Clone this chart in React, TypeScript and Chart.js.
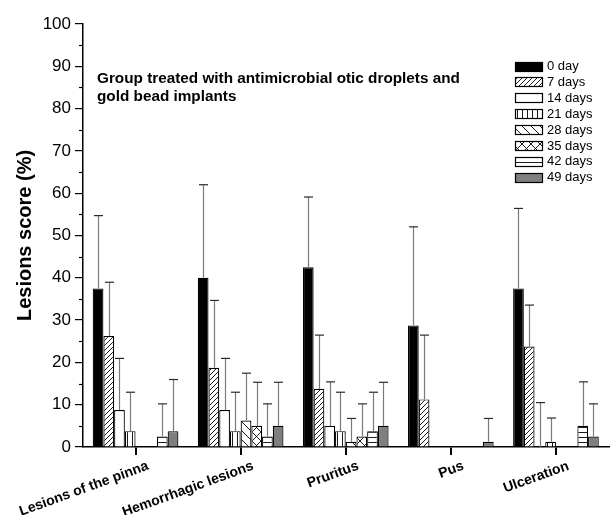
import React, { useEffect, useRef } from 'react';
import { Chart, registerables } from 'chart.js';

Chart.register(...registerables);

const FONT = '"Liberation Sans", Arial, Helvetica, sans-serif';

const categories = ['Lesions of the pinna', 'Hemorrhagic lesions', 'Pruritus', 'Pus', 'Ulceration'];
const seriesLabels = ['0 day', '7 days', '14 days', '21 days', '28 days', '35 days', '42 days', '49 days'];

const day0 = [37.5, 40, 42.5, 28.75, 37.5];
const day7 = [26.25, 18.75, 13.75, 11.25, 23.75];
const day14 = [8.75, 8.75, 5, 0, 0];
const day21 = [3.75, 3.75, 3.75, 0, 1.25];
const day28 = [0, 6.25, 1.25, 0, 0];
const day35 = [0, 5, 2.5, 0, 0];
const day42 = [2.5, 2.5, 3.75, 0, 5];
const day49 = [3.75, 5, 5, 1.25, 2.5];

const day0Sd = [17.2, 22, 16.6, 23.3, 18.9];
const day7Sd = [12.7, 15.9, 12.7, 15.2, 9.8];
const day14Sd = [12.2, 12.2, 10.4, 0, 10.5];
const day21Sd = [9.2, 9.2, 9.2, 0, 5.6];
const day28Sd = [0, 11.2, 5.5, 0, 0];
const day35Sd = [0, 10.3, 7.7, 0, 0];
const day42Sd = [7.7, 7.7, 9.2, 0, 10.4];
const day49Sd = [12.2, 10.3, 10.3, 5.5, 7.7];

const seriesValues = [day0, day7, day14, day21, day28, day35, day42, day49];
const seriesSd = [day0Sd, day7Sd, day14Sd, day21Sd, day28Sd, day35Sd, day42Sd, day49Sd];

const titleLines = ['Group treated with antimicrobial otic droplets and', 'gold bead implants'];
const yAxisTitle = 'Lesions score (%)';

type Kind = 'solid' | 'fwd' | 'white' | 'vert' | 'back' | 'cross' | 'horiz' | 'gray';
const seriesKinds: Kind[] = ['solid', 'fwd', 'white', 'vert', 'back', 'cross', 'horiz', 'gray'];

function makeFill(kind: Kind): string | CanvasPattern {
  if (kind === 'solid') return '#000000';
  if (kind === 'white') return '#ffffff';
  if (kind === 'gray') return '#7f7f7f';
  const size = kind === 'fwd' ? 5 : kind === 'vert' || kind === 'horiz' ? 5 : 9;
  const c = document.createElement('canvas');
  c.width = size;
  c.height = size;
  const ctx = c.getContext('2d')!;
  ctx.fillStyle = '#ffffff';
  ctx.fillRect(0, 0, size, size);
  ctx.strokeStyle = '#000000';
  ctx.lineWidth = 0.9;
  ctx.beginPath();
  if (kind === 'fwd' || kind === 'cross') {
    ctx.moveTo(-1, size + 1);
    ctx.lineTo(size + 1, -1);
    ctx.moveTo(-1, 1);
    ctx.lineTo(1, -1);
    ctx.moveTo(size - 1, size + 1);
    ctx.lineTo(size + 1, size - 1);
  }
  if (kind === 'back' || kind === 'cross') {
    ctx.moveTo(-1, -1);
    ctx.lineTo(size + 1, size + 1);
    ctx.moveTo(size - 1, -1);
    ctx.lineTo(size + 1, 1);
    ctx.moveTo(-1, size - 1);
    ctx.lineTo(1, size + 1);
  }
  if (kind === 'vert') {
    ctx.moveTo(2.5, 0);
    ctx.lineTo(2.5, size);
  }
  if (kind === 'horiz') {
    ctx.moveTo(0, 2.5);
    ctx.lineTo(size, 2.5);
  }
  ctx.stroke();
  return ctx.createPattern(c, 'repeat')!;
}

const errorBarPlugin = {
  id: 'errorBars',
  afterDatasetsDraw(chart: any) {
    const ctx = chart.ctx;
    const y = chart.scales.y;
    ctx.save();
    chart.data.datasets.forEach((ds: any, i: number) => {
      const meta = chart.getDatasetMeta(i);
      meta.data.forEach((bar: any, j: number) => {
        const sd = seriesSd[i][j];
        if (!sd) return;
        const top = y.getPixelForValue(seriesValues[i][j] + sd);
        const x = Math.round(bar.x) + 0.5;
        ctx.strokeStyle = '#7a7a7a';
        ctx.lineWidth = 1.2;
        ctx.beginPath();
        ctx.moveTo(x, bar.y);
        ctx.lineTo(x, top);
        ctx.stroke();
        ctx.strokeStyle = '#2a2a2a';
        ctx.lineWidth = 1.2;
        ctx.beginPath();
        ctx.moveTo(x - 4.5, top);
        ctx.lineTo(x + 4.5, top);
        ctx.stroke();
      });
    });
    ctx.restore();
  },
};

const decorPlugin = {
  id: 'decor',
  afterDraw(chart: any) {
    const ctx = chart.ctx;
    const y = chart.scales.y;
    const x = chart.scales.x;
    const area = chart.chartArea;
    ctx.save();
    // minor y ticks
    ctx.strokeStyle = '#000';
    ctx.lineWidth = 1.2;
    for (let v = 5; v < 100; v += 10) {
      const py = Math.round(y.getPixelForValue(v)) + 0.5;
      ctx.beginPath();
      ctx.moveTo(area.left - 4, py);
      ctx.lineTo(area.left, py);
      ctx.stroke();
    }
    // x labels
    ctx.fillStyle = '#000';
    ctx.font = `bold 14px ${FONT}`;
    ctx.textAlign = 'right';
    ctx.textBaseline = 'top';
    const ang = (-20 * Math.PI) / 180;
    categories.forEach((label, i) => {
      const px = x.getPixelForValue(i);
      ctx.save();
      ctx.translate(px + 10, area.bottom + 12);
      ctx.rotate(ang);
      ctx.fillText(label, 0, 0);
      ctx.restore();
    });
    // title text inside plot
    ctx.textAlign = 'left';
    ctx.textBaseline = 'alphabetic';
    ctx.font = `bold 15.3px ${FONT}`;
    ctx.fillText(titleLines[0], 97, 83);
    ctx.fillText(titleLines[1], 97, 101);
    // legend
    ctx.font = `13px ${FONT}`;
    ctx.textBaseline = 'middle';
    chart.data.datasets.forEach((ds: any, i: number) => {
      const cy = 66 + i * 15.9;
      const bx = 515.5;
      const by = Math.round(cy - 4.5) + 0.5;
      ctx.fillStyle = ds.backgroundColor;
      ctx.fillRect(bx, by, 27, 9);
      ctx.strokeStyle = '#000';
      ctx.lineWidth = 1.2;
      ctx.strokeRect(bx, by, 27, 9);
      ctx.fillStyle = '#000';
      ctx.fillText(ds.label, 547, cy + 0.5);
    });
    ctx.restore();
  },
};

export default function App() {
  const ref = useRef<HTMLCanvasElement>(null);
  useEffect(() => {
    if (!ref.current) return;
    const datasets = seriesLabels.map((label, i) => ({
      label,
      data: seriesValues[i],
      backgroundColor: makeFill(seriesKinds[i]),
      borderColor: '#000000',
      borderWidth: 1.2,
      borderSkipped: 'start' as const,
      categoryPercentage: 0.815,
      barPercentage: 1,
    }));
    const chart = new Chart(ref.current, {
      type: 'bar',
      data: { labels: categories, datasets },
      options: {
        animation: false,
        responsive: false,
        devicePixelRatio: 1,
        layout: { padding: { top: 24, right: 2.5, left: 0, bottom: 0 } },
        plugins: {
          legend: { display: false },
          tooltip: { enabled: false },
          title: { display: false },
        },
        scales: {
          x: {
            type: 'category',
            offset: true,
            grid: {
              display: true,
              drawOnChartArea: false,
              drawTicks: true,
              tickLength: 8,
              offset: false,
              color: '#000',
              lineWidth: 2,
            },
            border: { display: true, color: '#000', width: 1.5 },
            ticks: { color: 'rgba(0,0,0,0)', autoSkip: false, maxRotation: 0, minRotation: 0, font: { size: 1 } },
            afterFit: (s: any) => {
              s.height = 68;
            },
          },
          y: {
            min: 0,
            max: 100,
            ticks: { stepSize: 10, color: '#000', padding: 4, font: { family: FONT, size: 17 } },
            grid: { drawOnChartArea: false, drawTicks: true, tickLength: 8, color: '#000', lineWidth: 1.2 },
            border: { display: true, color: '#000', width: 1.5 },
            title: {
              display: true,
              text: yAxisTitle,
              color: '#000',
              font: { family: FONT, size: 20, weight: 'bold' },
              padding: { top: 13, bottom: 0 },
            },
            afterFit: (s: any) => {
              s.width = 83;
            },
          },
        },
      } as any,
      plugins: [errorBarPlugin, decorPlugin],
    });
    return () => chart.destroy();
  }, []);
  return (
    <div style={{ position: 'absolute', left: 0, top: 0, width: 611, height: 515, background: '#fff' }}>
      <canvas ref={ref} width={611} height={515} style={{ width: 611, height: 515 }} />
    </div>
  );
}
